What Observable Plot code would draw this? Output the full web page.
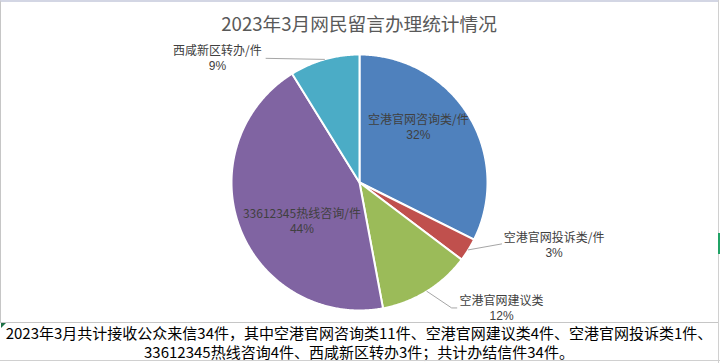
<!DOCTYPE html>
<html>
<head>
<meta charset="utf-8">
<script src="https://cdn.jsdelivr.net/npm/d3@7"></script>
<script src="https://cdn.jsdelivr.net/npm/@observablehq/plot@0.6"></script>
<style>
  html, body { margin: 0; padding: 0; background: #fff; }
  body { width: 720px; height: 363px; position: relative; overflow: hidden;
         font-family: "Noto Sans CJK SC", "Noto Sans", sans-serif; }
  #chart { position: absolute; left: 0; top: 0; width: 718px; height: 322px;
           border-left: 1px solid #c6c6c6; border-top: 2px solid #d3d6e4; box-sizing: border-box; }
  #title { position: absolute; left: 0; top: 8px; width: 716px; text-align: center;
           font-size: 18.67px; line-height: 26px; color: #595959; }
  #plot { position: absolute; left: 0; top: 40px; }
  #cell { position: absolute; left: 0; top: 322px; width: 718px; height: 39px;
          border-top: 1px solid #c6c6c6; box-sizing: border-box; text-align: center;
          font-size: 15px; line-height: 19px; color: #000; padding-top: 0px; white-space: nowrap; }
  #tri { position: absolute; left: 1px; top: 323px; width: 0; height: 0;
         border-top: 5px solid #1e7145; border-right: 5px solid transparent; }
  #rline { position: absolute; left: 718px; top: 0; width: 1px; height: 363px; background: #d0d0d0; }
  #green { position: absolute; left: 718px; top: 233px; width: 2px; height: 21px; background: #21a366; }
  #bottom { position: absolute; left: 0; top: 360px; width: 720px; height: 3px; border-top: 1px solid #d0d0d0; }
</style>
</head>
<body>
<div id="chart">
  <div id="title">2023年3月网民留言办理统计情况</div>
  <div id="plot"></div>
</div>
<div id="cell">2023年3月共计接收公众来信34件，其中空港官网咨询类11件、空港官网建议类4件、空港官网投诉类1件、<br>33612345热线咨询4件、西咸新区转办3件；共计办结信件34件。</div>
<div id="tri"></div>
<div id="rline"></div>
<div id="green"></div>
<div id="bottom"></div>
<script>
// ---- data (clockwise from 12 o'clock) ----
const names  = ["空港官网咨询类/件", "空港官网投诉类/件", "空港官网建议类", "33612345热线咨询/件", "西咸新区转办/件"];
const counts = [11, 1, 4, 15, 3];
const colors = ["#4f81bd", "#c0504d", "#9bbb59", "#8064a2", "#4bacc6"];

// ---- label layout (in units of the pie radius, y up) ----
const labelAt  = [[0.46, 0.485], [1.52, -0.435], [1.11, -0.925], [-0.45, -0.245], [-1.11, 1.025]];
const leaderTo = [null, [[1.11, -0.48]], [[0.72, -0.98], [0.76, -0.98]], null, [[-0.73, 0.97]]];

const total = d3.sum(counts);
const arcs = d3.pie().sort(null).startAngle(0).endAngle(2 * Math.PI)(counts);

const pt = a => ({x: Math.sin(a), y: Math.cos(a)});

const sliceMarks = arcs.map((a, i) => {
  const pts = [{x: 0, y: 0}];
  const n = Math.max(2, Math.ceil((a.endAngle - a.startAngle) / (Math.PI / 360)));
  for (let k = 0; k <= n; k++) pts.push(pt(a.startAngle + (a.endAngle - a.startAngle) * k / n));
  pts.push({x: 0, y: 0});
  return Plot.line(pts, {x: "x", y: "y", fill: colors[i], stroke: "#fff", strokeWidth: 2, curve: "linear"});
});

const leaders = [];
arcs.forEach((a, i) => {
  if (!leaderTo[i]) return;
  const m = pt((a.startAngle + a.endAngle) / 2);
  leaders.push({name: names[i], x: m.x, y: m.y});
  leaderTo[i].forEach(([x, y]) => leaders.push({name: names[i], x, y}));
});

const labels = names.map((nm, i) => ({
  name: nm,
  pct: Math.round(counts[i] / total * 100) + "%",
  x: labelAt[i][0], y: labelAt[i][1]
}));

const R = 128, cx = 358, cy = 140;
const chart = Plot.plot({
  width: 716, height: 280,
  margin: 0,
  x: {domain: [-1, 1], range: [cx - R, cx + R], axis: null},
  y: {domain: [-1, 1], range: [cy + R, cy - R], axis: null},
  style: {fontFamily: '"Noto Sans CJK SC", "Noto Sans", sans-serif', overflow: "visible", background: "transparent"},
  marks: [
    ...sliceMarks,
    Plot.line(leaders, {x: "x", y: "y", z: "name", stroke: "#a6a6a6", strokeWidth: 1, curve: "linear"}),
    Plot.text(labels, {x: "x", y: "y", text: "name", fill: "#404040", fontSize: 12, textAnchor: "middle"}),
    Plot.text(labels, {x: "x", y: "y", text: "pct", fill: "#404040", fontSize: 12, textAnchor: "middle", dy: 15,
                       fontFamily: '"Liberation Sans", Arial, sans-serif'})
  ]
});
document.getElementById("plot").appendChild(chart);
</script>
</body>
</html>
